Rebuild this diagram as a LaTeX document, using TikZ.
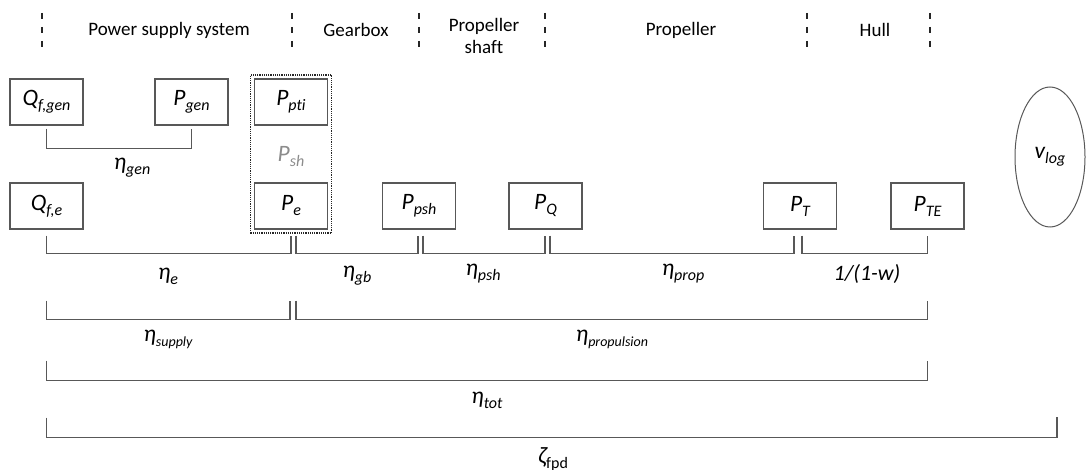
\documentclass[tikz,border=0pt]{standalone}
\usepackage{fontspec}
\setmainfont{Carlito}[Ligatures={NoCommon}]
\usetikzlibrary{shapes.geometric,fit}
\definecolor{ln}{HTML}{585858}
\definecolor{pshc}{HTML}{8C8C8C}
\newcommand{\sy}[2]{{\fontsize{23.5}{23.5}\selectfont\itshape #1\raisebox{-5pt}{\fontsize{16}{16}\selectfont #2}}}
\newcommand{\syb}[2]{{\fontsize{23.5}{23.5}\selectfont\itshape #1\raisebox{-5pt}{\fontsize{14}{14}\selectfont #2}}}
\tikzset{
  qbox/.style={draw=ln, line width=1.1pt, minimum width=73pt, minimum height=46pt, inner sep=0pt, text=black},
  br/.style={draw=ln, line width=1.5pt},
  sep/.style={draw=black!85, line width=1.2pt, dash pattern=on 6pt off 8pt},
  hdr/.style={font=\fontsize{19}{22}\selectfont, align=center, inner sep=0pt},
  lab/.style={inner sep=0pt}
}
\begin{document}
\begin{tikzpicture}[x=1pt,y=-1pt]
\useasboundingbox (0,0) rectangle (1087,470);
% header separators
\foreach \xx in {42,292,419,545,807,930}{
  \draw[sep] (\xx,13) -- (\xx,50);
}
\node[hdr] (h1) at (169,30) {Power supply system};
\node[hdr] (h2) at (356,30) {Gearbox};
\node[hdr] (h3) at (484,36) {Propeller\\shaft};
\node[hdr] (h4) at (681,30) {Propeller};
\node[hdr] (h5) at (875,30) {Hull};
% boxes
\node[qbox] (Qfgen) at (46.5,102) {\sy{Q}{f,gen}};
\node[qbox] (Pgen) at (191.5,102) {\sy{P}{gen}};
\node[qbox] (Ppti) at (291,102) {\sy{P}{pti}};
\node[qbox] (Qfe) at (46.5,206) {\sy{Q}{f,e}};
\node[qbox] (Pe) at (291,206) {\sy{P}{e}};
\node[qbox] (Ppsh) at (419,206) {\sy{P}{psh}};
\node[qbox] (PQ) at (545.5,206) {\sy{P}{Q}};
\node[qbox] (PT) at (800,206) {\sy{P}{T}};
\node[qbox] (PTE) at (927.5,206) {\sy{P}{TE}};
\node[lab, text=pshc] (Psh) at (291,157) {\sy{P}{sh}};
\node[draw=black!85, line width=1.2pt, densely dotted, inner sep=3.5pt, fit=(Ppti)(Pe)] (grp) {};
\node[draw=ln, line width=1pt, ellipse, minimum width=70pt, minimum height=140pt, inner sep=0pt] (vlog) at (1050,157) {\sy{v}{log}};
% brackets level 1
\draw[br] ([yshift=-3pt]Qfgen.south) -- ++(0,20) -| ([yshift=-3pt]Pgen.south);
\node[lab] (egen) at (132,168) {\sy{η}{gen}};
\draw[br] ([yshift=-6pt]Qfe.south) -- ++(0,18) -| ([yshift=-6pt]Pe.south);
\draw[br] ([yshift=-6pt,xshift=5pt]Pe.south) -- ++(0,18) -| ([yshift=-6pt,xshift=-1pt]Ppsh.south);
\draw[br] ([yshift=-6pt,xshift=4pt]Ppsh.south) -- ++(0,18) -| ([yshift=-6pt,xshift=-0.5pt]PQ.south);
\draw[br] ([yshift=-6pt,xshift=4.5pt]PQ.south) -- ++(0,18) -| ([yshift=-6pt,xshift=-6pt]PT.south);
\draw[br] ([yshift=-6pt,xshift=2pt]PT.south) -- ++(0,18) -| ([yshift=-6pt]PTE.south);
\node[lab] (ee) at (168,276) {\sy{η}{e}};
\node[lab] (egb) at (357,276) {\sy{η}{gb}};
\node[lab] (epsh) at (483,274) {\sy{η}{psh}};
\node[lab] (eprop) at (683,274) {\sy{η}{prop}};
\node[lab] (ew) at (867,274) {\fontsize{22}{22}\selectfont\itshape 1/(1-w)};
% brackets level 2
\draw[br] ([yshift=-71pt]Qfe.south) -- ++(0,19) -| ([yshift=-71pt,xshift=-1pt]Pe.south);
\draw[br] ([yshift=-71pt,xshift=5pt]Pe.south) -- ++(0,19) -| ([yshift=-71pt]PTE.south);
\node[lab] (esup) at (168,339) {\syb{η}{supply}};
\node[lab] (eprp) at (612,339) {\syb{η}{propulsion}};
% level 3
\draw[br] ([yshift=-131pt]Qfe.south) -- ++(0,20) -| ([yshift=-131pt]PTE.south);
\node[lab] (etot) at (487,400) {\sy{η}{tot}};
% level 4
\coordinate (zend) at (1057,417);
\draw[br] ([yshift=-188pt]Qfe.south) -- ++(0,20) -| (zend);
\node[lab] (zeta) at (553,459) {{\fontsize{23.5}{23.5}\selectfont\itshape ζ}\raisebox{-5pt}{\fontsize{16}{16}\selectfont fpd}};
\end{tikzpicture}
\end{document}
